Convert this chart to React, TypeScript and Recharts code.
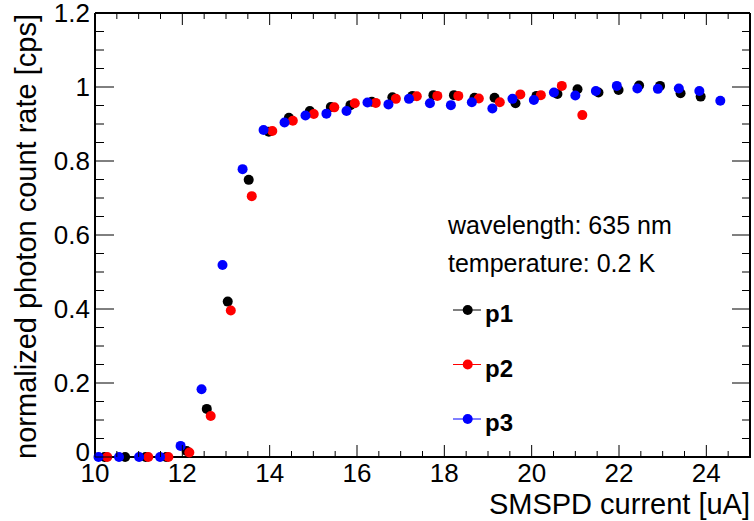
import React from "react";
import { ScatterChart, Scatter, XAxis, YAxis, Legend } from "recharts";

const FONT = "'Liberation Sans', Arial, Helvetica, sans-serif";

// SMSPD current [uA] and normalized rate for each series
const p1X = [10.22, 10.69, 11.16, 11.63, 12.1, 12.56, 13.04, 13.52, 13.98, 14.44, 14.92, 15.4, 15.85, 16.34, 16.81, 17.27, 17.75, 18.22, 18.69, 19.15, 19.63, 20.11, 20.59, 21.05, 21.53, 21.99, 22.46, 22.94, 23.41, 23.87];
const p1Y = [0, 0, 0, 0, 0.016, 0.13, 0.42, 0.749, 0.879, 0.917, 0.935, 0.946, 0.951, 0.96, 0.972, 0.976, 0.978, 0.978, 0.971, 0.971, 0.956, 0.976, 0.981, 0.994, 0.985, 0.992, 1.004, 1.003, 0.983, 0.974];

const p2X = [10.28, 11.22, 11.68, 12.16, 12.65, 13.11, 13.59, 14.06, 14.53, 15.01, 15.48, 15.95, 16.43, 16.89, 17.37, 17.84, 18.32, 18.79, 19.27, 19.74, 20.21, 20.69, 21.16];
const p2Y = [0, 0, 0, 0.012, 0.111, 0.396, 0.705, 0.881, 0.909, 0.927, 0.945, 0.956, 0.957, 0.968, 0.975, 0.976, 0.976, 0.969, 0.959, 0.98, 0.978, 1.003, 0.924];

const p3X = [10.08, 10.55, 11.01, 11.49, 11.96, 12.44, 12.92, 13.38, 13.86, 14.34, 14.82, 15.3, 15.76, 16.24, 16.72, 17.19, 17.67, 18.15, 18.63, 19.1, 19.56, 20.05, 20.51, 21.0, 21.47, 21.95, 22.42, 22.89, 23.37, 23.84, 24.32];
const p3Y = [0, 0, 0, 0, 0.03, 0.183, 0.519, 0.778, 0.884, 0.904, 0.923, 0.928, 0.935, 0.958, 0.953, 0.968, 0.956, 0.951, 0.959, 0.942, 0.968, 0.965, 0.985, 0.977, 0.989, 1.003, 0.996, 0.995, 0.996, 0.989, 0.963];

const seriesNames = ["p1", "p2", "p3"];
const seriesColors = ["#000000", "#ff0000", "#0000ff"];

const xMajorTicks = [10, 12, 14, 16, 18, 20, 22, 24];
const yMajorTicks = [0, 0.2, 0.4, 0.6, 0.8, 1, 1.2];
const xDomain = [10, 25];
const yDomain = [0, 1.2];

const infoLines = ["wavelength: 635 nm", "temperature: 0.2 K"];
const xTitle = "SMSPD current [uA]";
const yTitle = "normalized photon count rate [cps]";

const xAllTicks: number[] = [];
for (let i = 0; i <= 30; i++) xAllTicks.push(+(10 + i * 0.5).toFixed(2));
const yAllTicks: number[] = [];
for (let i = 0; i <= 24; i++) yAllTicks.push(+(i * 0.05).toFixed(2));

const isMajor = (v: number, majors: number[]) => majors.some((m) => Math.abs(m - v) < 1e-6);
const fmtY = (v: number) => String(Math.round(v * 10) / 10);

const mk = (xs: number[], ys: number[]) => xs.map((x, i) => ({ x, y: ys[i] }));
const seriesData = [mk(p1X, p1Y), mk(p2X, p2Y), mk(p3X, p3Y)];

const BottomTick = (props: any) => {
  const { x, y, payload } = props;
  const major = isMajor(payload.value, xMajorTicks);
  return (
    <g>
      <line x1={x} x2={x} y1={y} y2={y - (major ? 12 : 6)} stroke="#000" strokeWidth={1} />
      {major && (
        <text x={x} y={y + 25} textAnchor="middle" fontSize={26} fontFamily={FONT} fill="#000">
          {payload.value}
        </text>
      )}
    </g>
  );
};

const TopTick = (props: any) => {
  const { x, y, payload } = props;
  const major = isMajor(payload.value, xMajorTicks);
  return <line x1={x} x2={x} y1={y} y2={y + (major ? 12 : 6)} stroke="#000" strokeWidth={1} />;
};

const LeftTick = (props: any) => {
  const { x, y, payload } = props;
  const major = isMajor(payload.value, yMajorTicks);
  const shift = Math.abs(payload.value) < 1e-6 ? -5 : 0;
  return (
    <g>
      <line x1={x} x2={x + (major ? 19 : 9)} y1={y} y2={y} stroke="#000" strokeWidth={1} />
      {major && (
        <text x={x - 5} y={y + 9 + shift} textAnchor="end" fontSize={26} fontFamily={FONT} fill="#000">
          {fmtY(payload.value)}
        </text>
      )}
    </g>
  );
};

const RightTick = (props: any) => {
  const { x, y, payload } = props;
  const major = isMajor(payload.value, yMajorTicks);
  return <line x1={x} x2={x - (major ? 18 : 8)} y1={y} y2={y} stroke="#000" strokeWidth={1} />;
};

const LegendBox = (props: any) => {
  const payload = props.payload || [];
  const items = seriesNames.map((n, i) => {
    const p = payload.find((e: any) => e.value === n);
    return { name: n, color: (p && p.color) || seriesColors[i] };
  });
  return (
    <svg width={280} height={250} style={{ overflow: "visible", display: "block" }}>
      {infoLines.map((t, i) => (
        <text key={t} x={8} y={34 + i * 38} fontSize={25} fontFamily={FONT} fill="#000">
          {t}
        </text>
      ))}
      {items.map((it, i) => {
        const cy = 110 + i * 54.5;
        return (
          <g key={it.name}>
            <line x1={13} x2={41} y1={cy} y2={cy} stroke={it.color} strokeWidth={1} />
            <circle cx={27.7} cy={cy} r={5} fill={it.color} />
            <text x={45} y={cy + 12} fontSize={24} fontWeight="bold" fontFamily={FONT} fill="#000">
              {it.name}
            </text>
          </g>
        );
      })}
    </svg>
  );
};

const Dot = (color: string) => (props: any) => {
  const { cx, cy } = props;
  if (cx == null || cy == null) return <g />;
  return <circle cx={cx} cy={cy} r={5} fill={color} />;
};

export default function App() {
  return (
    <div style={{ position: "absolute", left: 0, top: 0, width: 754, height: 521, background: "#fff" }}>
      {/* bottom frame line drawn beneath the chart so markers at y=0 sit on top of it */}
      <svg width={754} height={521} style={{ position: "absolute", left: 0, top: 0 }}>
        <line x1={95} x2={751} y1={457} y2={457} stroke="#000" strokeWidth={2} />
      </svg>
      <div style={{ position: "absolute", left: 0, top: 0 }}>
        <ScatterChart width={754} height={521} margin={{ top: 3, right: 0, bottom: 24, left: 35 }}>
          <XAxis
            dataKey="x"
            type="number"
            domain={xDomain}
            ticks={xAllTicks}
            interval={0}
            height={40}
            tickSize={0}
            tickMargin={0}
            tickLine={false}
            tick={<BottomTick />}
            axisLine={false}
          />
          <XAxis
            xAxisId="top"
            orientation="top"
            dataKey="x"
            type="number"
            domain={xDomain}
            ticks={xAllTicks}
            interval={0}
            allowDataOverflow
            height={10}
            tickSize={0}
            tickMargin={0}
            tickLine={false}
            tick={<TopTick />}
            axisLine={{ stroke: "#000", strokeWidth: 2 }}
          />
          <YAxis
            dataKey="y"
            type="number"
            domain={yDomain}
            ticks={yAllTicks}
            interval={0}
            width={60}
            tickSize={0}
            tickMargin={0}
            tickLine={false}
            tick={<LeftTick />}
            axisLine={{ stroke: "#000", strokeWidth: 2 }}
          />
          <YAxis
            yAxisId="right"
            orientation="right"
            dataKey="y"
            type="number"
            domain={yDomain}
            ticks={yAllTicks}
            interval={0}
            allowDataOverflow
            width={4}
            tickSize={0}
            tickMargin={0}
            tickLine={false}
            tick={<RightTick />}
            axisLine={{ stroke: "#000", strokeWidth: 2 }}
          />
          {seriesData.map((d, i) => (
            <Scatter
              key={seriesNames[i]}
              name={seriesNames[i]}
              data={d}
              fill={seriesColors[i]}
              shape={Dot(seriesColors[i])}
              isAnimationActive={false}
            />
          ))}
          <Legend
            layout="vertical"
            align="center"
            verticalAlign="middle"
            content={<LegendBox />}
            wrapperStyle={{ position: "absolute", left: 440, top: 200, width: 280, height: 250 }}
          />
        </ScatterChart>
      </div>
      <svg width={754} height={521} style={{ position: "absolute", left: 0, top: 0, pointerEvents: "none" }}>
        <text x={750} y={514} textAnchor="end" fontSize={29} fontFamily={FONT} fill="#000">
          {xTitle}
        </text>
        <text
          x={0}
          y={0}
          transform="translate(36,14) rotate(-90)"
          textAnchor="end"
          fontSize={29}
          fontFamily={FONT}
          fill="#000"
        >
          {yTitle}
        </text>
      </svg>
    </div>
  );
}
